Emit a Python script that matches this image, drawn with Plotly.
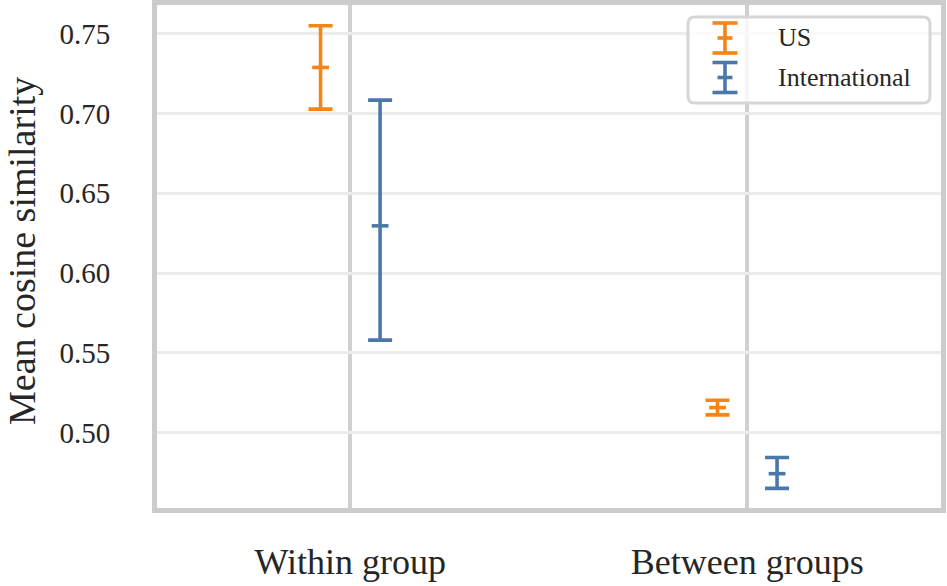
import plotly.graph_objects as go

# ---- data ----
categories = ["Within group", "Between groups"]
series_names = ["US", "International"]
us_mean = [0.7288, 0.5158]
us_upper = [0.7549, 0.5204]
us_lower = [0.7027, 0.5112]
intl_mean = [0.6296, 0.4744]
intl_upper = [0.7083, 0.4845]
intl_lower = [0.5580, 0.4652]
y_ticks = [0.50, 0.55, 0.60, 0.65, 0.70, 0.75]
y_title = "Mean cosine similarity"

# ---- style ----
colors = {"US": "#f58518", "International": "#4c78a8"}
offsets = {"US": -0.075, "International": 0.075}
FONT = "Liberation Serif"
TXT = "#262626"
LW = 3.6

W, H = 947, 586
ML, MR, MT, MB = 157, 6, 5, 78
PW, PH = W - ML - MR, H - MT - MB

fig = go.Figure()
series = [
    ("US", us_mean, us_upper, us_lower),
    ("International", intl_mean, intl_upper, intl_lower),
]
for name, mean, up, lo in series:
    xs = [i + offsets[name] for i in range(len(categories))]
    fig.add_trace(go.Scatter(
        x=xs, y=mean, mode="markers", name=name, showlegend=False,
        marker=dict(symbol="line-ew", size=12, color=colors[name],
                    line=dict(width=LW, color=colors[name])),
        error_y=dict(type="data", symmetric=False,
                     array=[u - m for u, m in zip(up, mean)],
                     arrayminus=[m - l for m, l in zip(mean, lo)],
                     color=colors[name], thickness=LW, width=12),
    ))

# ---- manual legend (error-bar glyphs) ----
def px2x(px):
    return (px - ML) / PW

def px2y(py):
    return (H - MB - py) / PH

def rounded_rect(lx, ty, rx, by, r):
    pts = [
        f"M {px2x(lx + r)},{px2y(ty)}",
        f"L {px2x(rx - r)},{px2y(ty)}",
        f"Q {px2x(rx)},{px2y(ty)} {px2x(rx)},{px2y(ty + r)}",
        f"L {px2x(rx)},{px2y(by - r)}",
        f"Q {px2x(rx)},{px2y(by)} {px2x(rx - r)},{px2y(by)}",
        f"L {px2x(lx + r)},{px2y(by)}",
        f"Q {px2x(lx)},{px2y(by)} {px2x(lx)},{px2y(by - r)}",
        f"L {px2x(lx)},{px2y(ty + r)}",
        f"Q {px2x(lx)},{px2y(ty)} {px2x(lx + r)},{px2y(ty)}",
        "Z",
    ]
    return " ".join(pts)

shapes = []
annotations = []
shapes.append(dict(type="path", xref="paper", yref="paper", path=rounded_rect(688, 17, 930, 103, 7),
                   line=dict(color="#d6d6d6", width=3), fillcolor="rgba(255,255,255,0.8)",
                   layer="above"))
gx = 725
for k, name in enumerate(series_names):
    cy = 38 + k * 39.5
    top, bot = cy - 15, cy + 15
    c = colors[name]
    shapes.append(dict(type="line", xref="paper", yref="paper", x0=px2x(gx), x1=px2x(gx),
                       y0=px2y(top), y1=px2y(bot), line=dict(color=c, width=LW), layer="above"))
    for yy, hw in ((top, 12.5), (bot, 12.5), (cy, 7.5)):
        shapes.append(dict(type="line", xref="paper", yref="paper", x0=px2x(gx - hw),
                           x1=px2x(gx + hw), y0=px2y(yy), y1=px2y(yy),
                           line=dict(color=c, width=LW), layer="above"))
    annotations.append(dict(text=name, xref="paper", yref="paper", x=px2x(776), y=px2y(cy),
                            xanchor="left", yanchor="middle", showarrow=False,
                            font=dict(family=FONT, size=26, color=TXT)))

# y-axis title placed as rotated text
annotations.append(dict(text=y_title, xref="paper", yref="paper", x=px2x(22), y=px2y(251),
                        xanchor="center", yanchor="middle", textangle=-90, showarrow=False,
                        font=dict(family=FONT, size=38, color=TXT)))

fig.update_layout(
    width=W, height=H,
    margin=dict(l=ML, r=MR, t=MT, b=MB, pad=0, autoexpand=False),
    paper_bgcolor="white", plot_bgcolor="white",
    font=dict(family=FONT, color=TXT),
    shapes=shapes, annotations=annotations,
    showlegend=False,
)
fig.update_xaxes(
    range=[-0.487, 1.488], tickvals=list(range(len(categories))), ticktext=categories,
    showgrid=True, gridcolor="#d0d0d0", gridwidth=4, zeroline=False,
    showline=True, linecolor="#cccccc", linewidth=5, mirror=True, automargin=False,
    ticks="", tickfont=dict(family=FONT, size=36, color=TXT), ticklabelstandoff=18,
)
fig.update_yaxes(
    range=[0.4529, 0.7679], tickvals=y_ticks, tickformat=".2f",
    showgrid=True, gridcolor="#ececec", gridwidth=3, zeroline=False,
    showline=True, linecolor="#cccccc", linewidth=5, mirror=True, automargin=False,
    ticks="", tickfont=dict(family=FONT, size=29, color=TXT), ticklabelstandoff=36,
)

fig.write_html("out.html")
